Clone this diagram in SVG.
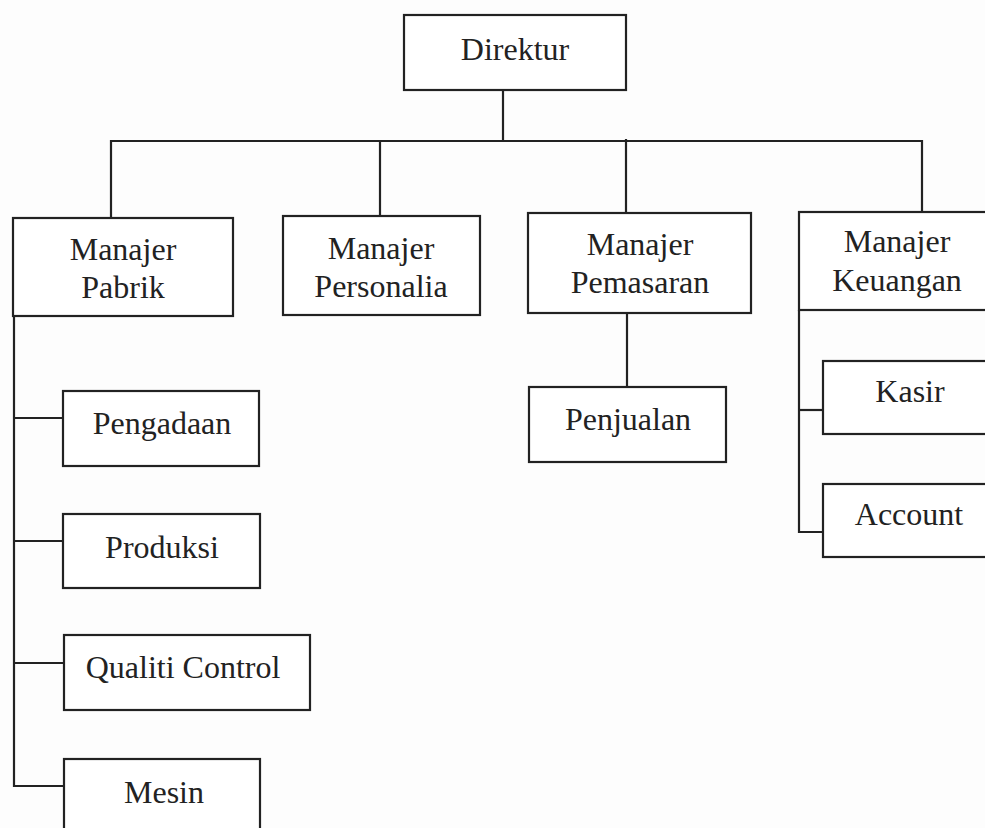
<svg xmlns="http://www.w3.org/2000/svg" width="985" height="828" viewBox="0 0 985 828">
<style>
.box{fill:#fff;stroke:#222;stroke-width:2.2}
.ln{fill:none;stroke:#222;stroke-width:2.2}
text{font-family:"Liberation Serif","Times New Roman",serif;font-size:32px;fill:#222;text-anchor:middle}
</style>
<rect width="985" height="828" fill="#fdfdfd"/>
<g id="connectors">
<path class="ln" d="M503 90 V140"/>
<path class="ln" d="M111 218 V141 H922 V212"/>
<path class="ln" d="M380 140 V216"/>
<path class="ln" d="M626 139 V213"/>
<path class="ln" d="M627 313 V387"/>
<path class="ln" d="M799 310 V532 H823"/>
<path class="ln" d="M799 410 H823"/>
<path class="ln" d="M14 316 V786 H64"/>
<path class="ln" d="M14 418 H63"/>
<path class="ln" d="M14 541 H63"/>
<path class="ln" d="M14 663 H64"/>
</g>
<g id="direktur"><rect class="box" x="404" y="15" width="222" height="75"/><text x="515" y="60">Direktur</text></g>
<g id="manajer-pabrik"><rect class="box" x="13" y="218" width="220" height="98"/><text x="123" y="260">Manajer</text><text x="123" y="298">Pabrik</text></g>
<g id="manajer-personalia"><rect class="box" x="283" y="216" width="197" height="99"/><text x="381" y="259">Manajer</text><text x="381" y="297">Personalia</text></g>
<g id="manajer-pemasaran"><rect class="box" x="528" y="213" width="223" height="100"/><text x="640" y="255">Manajer</text><text x="640" y="293">Pemasaran</text></g>
<g id="manajer-keuangan"><rect class="box" x="799" y="212" width="200" height="98"/><text x="897" y="252">Manajer</text><text x="897" y="291">Keuangan</text></g>
<g id="penjualan"><rect class="box" x="529" y="387" width="197" height="75"/><text x="628" y="430">Penjualan</text></g>
<g id="kasir"><rect class="box" x="823" y="361" width="180" height="73"/><text x="910" y="402">Kasir</text></g>
<g id="account"><rect class="box" x="823" y="484" width="180" height="73"/><text x="909" y="525">Account</text></g>
<g id="pengadaan"><rect class="box" x="63" y="391" width="196" height="75"/><text x="162" y="434">Pengadaan</text></g>
<g id="produksi"><rect class="box" x="63" y="514" width="197" height="74"/><text x="162" y="558">Produksi</text></g>
<g id="qualiti-control"><rect class="box" x="64" y="635" width="246" height="75"/><text x="183" y="678">Qualiti Control</text></g>
<g id="mesin"><rect class="box" x="64" y="759" width="196" height="80"/><text x="164" y="803">Mesin</text></g>
</svg>
